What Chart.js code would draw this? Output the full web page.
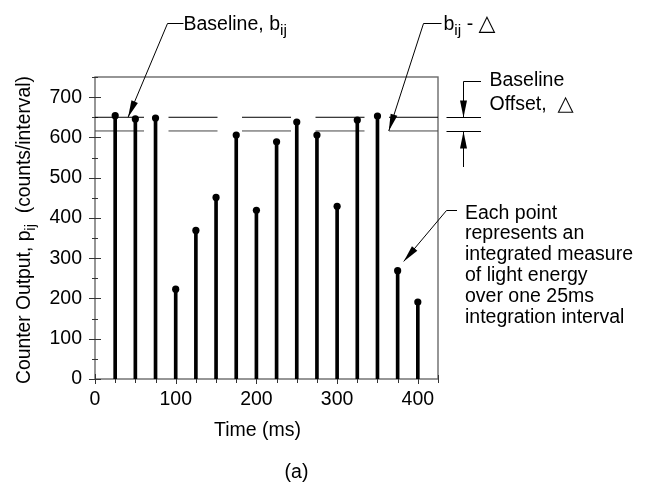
<!DOCTYPE html>
<html><head><meta charset="utf-8">
<script src="https://cdn.jsdelivr.net/npm/chart.js@4/dist/chart.umd.min.js"></script>
<style>html,body{margin:0;padding:0;background:#fff;}canvas{display:block}</style>
</head><body>
<canvas id="c" width="653" height="485"></canvas>
<script>
// ---- data ----
const times  = [25, 50, 75, 100, 125, 150, 175, 200, 225, 250, 275, 300, 325, 350, 375, 400];
const counts = [654, 646, 648, 223, 369, 451, 606, 419, 589, 638, 606, 429, 643, 653, 269, 191];
const xTickValues = [0, 100, 200, 300, 400];
const yTickValues = [0, 100, 200, 300, 400, 500, 600, 700];
const xMinorTicks = [0, 25, 50, 75, 100, 125, 150, 175, 200, 225, 250, 275, 300, 325, 350, 375, 400, 425];
const yMinorTicks = [0, 50, 100, 150, 200, 250, 300, 350, 400, 450, 500, 550, 600, 650, 700, 750];
const xRange = [0, 425];
const yRange = [0, 750];
const baselineLevel = 650;   // b_ij
const offsetLevel = 616;     // b_ij - delta
const noteLines = ['Each point', 'represents an', 'integrated measure', 'of light energy', 'over one 25ms', 'integration interval'];

const FONT = '"Liberation Sans", Arial, sans-serif';
const FRAME = '#6a6a6a';
const FS = 19.5;

function drawRuns(ctx, runs, x, y) {
  let cx = x;
  for (const r of runs) {
    ctx.font = r.size + 'px ' + (r.family || FONT);
    ctx.fillText(r.t, cx, y + (r.dy || 0));
    cx += ctx.measureText(r.t).width;
  }
  return cx - x;
}
function runsWidth(ctx, runs) {
  let w = 0;
  for (const r of runs) { ctx.font = r.size + 'px ' + (r.family || FONT); w += ctx.measureText(r.t).width; }
  return w;
}
function arrow(ctx, x0, y0, x1, y1, len, hw) {
  ctx.beginPath(); ctx.moveTo(x0, y0); ctx.lineTo(x1, y1); ctx.stroke();
  const a = Math.atan2(y1 - y0, x1 - x0);
  const bx = x1 - len * Math.cos(a), by = y1 - len * Math.sin(a);
  const nx = -Math.sin(a) * hw, ny = Math.cos(a) * hw;
  ctx.beginPath(); ctx.moveTo(x1, y1); ctx.lineTo(bx + nx, by + ny); ctx.lineTo(bx - nx, by - ny); ctx.closePath(); ctx.fill();
}

const framePlugin = {
  id: 'frame',
  beforeDatasetsDraw(chart) {
    const {ctx, chartArea: a, scales: {x, y}} = chart;
    ctx.save();
    ctx.strokeStyle = FRAME; ctx.lineWidth = 1.4;
    ctx.strokeRect(a.left, a.top, a.right - a.left, a.bottom - a.top);
    ctx.strokeStyle = '#333'; ctx.lineWidth = 1;
    for (const v of xMinorTicks) {
      const px = Math.round(x.getPixelForValue(v)) + 0.5;
      const major = xTickValues.includes(v);
      ctx.beginPath(); ctx.moveTo(px, a.bottom - (major ? 5 : 4)); ctx.lineTo(px, a.bottom + (major ? 5 : 4)); ctx.stroke();
    }
    for (const v of yMinorTicks) {
      const py = Math.round(y.getPixelForValue(v)) + 0.5;
      const major = yTickValues.includes(v);
      ctx.beginPath(); ctx.moveTo(a.left - (major ? 6 : 3), py); ctx.lineTo(a.left + (major ? 6 : 3), py); ctx.stroke();
    }
    ctx.restore();
  },
  afterDraw(chart) {
    const {ctx, chartArea: a, scales: {x, y}} = chart;
    ctx.save();
    ctx.fillStyle = '#000'; ctx.strokeStyle = '#000'; ctx.lineWidth = 1;
    ctx.textBaseline = 'alphabetic'; ctx.textAlign = 'left';

    // Y axis title (rotated)
    const yRuns = [
      {t: 'Counter Output, p', size: 19.3},
      {t: 'ij', size: 15, dy: 5},
      {t: '  (counts/interval)', size: 19.3}
    ];
    const yw = runsWidth(ctx, yRuns);
    ctx.save();
    ctx.translate(30, (a.top + a.bottom) / 2 + 2 + yw / 2);
    ctx.rotate(-Math.PI / 2);
    drawRuns(ctx, yRuns, 0, 0);
    ctx.restore();

    // X axis title
    ctx.font = FS + 'px ' + FONT; ctx.textAlign = 'center';
    ctx.fillText('Time (ms)', 257.5, 436);
    ctx.fillText('(a)', 296.5, 478);
    ctx.textAlign = 'left';

    // Baseline, b_ij annotation
    drawRuns(ctx, [{t: 'Baseline, b', size: FS}, {t: 'ij', size: 15.5, dy: 5}], 183.5, 30);
    ctx.beginPath(); ctx.moveTo(183.5, 23.5); ctx.lineTo(167.5, 23.5); ctx.stroke();
    arrow(ctx, 167.5, 23.5, x.getPixelForValue(41), y.getPixelForValue(baselineLevel), 17, 3.5);

    // b_ij - delta annotation
    drawRuns(ctx, [{t: 'b', size: FS}, {t: 'ij', size: 15.5, dy: 5}, {t: ' - ', size: FS}, {t: '\u25B3', size: 22, family: '"DejaVu Sans"'}], 443.5, 30);
    ctx.beginPath(); ctx.moveTo(441.5, 23.5); ctx.lineTo(423.5, 23.5); ctx.stroke();
    arrow(ctx, 423.5, 23.5, x.getPixelForValue(364), y.getPixelForValue(offsetLevel), 17, 3.5);

    // Baseline offset dimension
    const yb = Math.round(y.getPixelForValue(baselineLevel)) + 0.5;
    const yo = Math.round(y.getPixelForValue(offsetLevel)) + 0.5;
    ctx.beginPath();
    ctx.moveTo(446.5, yb); ctx.lineTo(481, yb);
    ctx.moveTo(446.5, yo); ctx.lineTo(481, yo);
    ctx.moveTo(481, 81.5); ctx.lineTo(463.5, 81.5);
    ctx.stroke();
    arrow(ctx, 463.5, 81.5, 463.5, yb, 17, 3.5);
    arrow(ctx, 463.5, 167, 463.5, yo, 17, 3.5);
    drawRuns(ctx, [{t: 'Baseline', size: FS}], 489.5, 86);
    drawRuns(ctx, [{t: 'Offset,  ', size: FS}, {t: '\u25B3', size: 21, family: '"DejaVu Sans"'}], 489.5, 109.5);

    // Each point note
    ctx.beginPath(); ctx.moveTo(457, 210.5); ctx.lineTo(446.5, 210.5); ctx.stroke();
    arrow(ctx, 446.5, 210.5, x.getPixelForValue(382.5), y.getPixelForValue(292), 17, 3.5);
    ctx.font = FS + 'px ' + FONT;
    noteLines.forEach((s, i) => ctx.fillText(s, 465, 218.5 + i * 20.8));
    ctx.restore();
  }
};

const pts = times.map((t, i) => ({x: t, y: counts[i]}));
const flat = (lvl) => [{x: xRange[0], y: lvl}, {x: xRange[1], y: lvl}];

new Chart(document.getElementById('c'), {
  type: 'bar',
  data: {
    datasets: [
      {type: 'line', data: pts, showLine: false, pointRadius: 3.6, pointBackgroundColor: '#000', pointBorderWidth: 0, order: 0},
      {type: 'bar', data: pts, backgroundColor: '#000', barThickness: 3, order: 1},
      {type: 'line', data: flat(baselineLevel), borderColor: '#000', borderWidth: 1, borderDash: [49, 24.5], pointRadius: 0, order: 2},
      {type: 'line', data: flat(offsetLevel), borderColor: '#444', borderWidth: 1, borderDash: [49, 24.5], pointRadius: 0, order: 2}
    ]
  },
  options: {
    responsive: false,
    animation: false,
    layout: {padding: {left: 0, top: 77, right: 215, bottom: 0}},
    plugins: {legend: {display: false}, tooltip: {enabled: false}},
    scales: {
      x: {
        type: 'linear', min: xRange[0], max: xRange[1], offset: false,
        grid: {display: false, drawTicks: false}, border: {display: false},
        afterBuildTicks: s => { s.ticks = xTickValues.map(v => ({value: v})); },
        afterFit: s => { s.height = 106; },
        ticks: {color: '#000', font: {family: FONT, size: FS}, padding: 9, maxRotation: 0, autoSkip: false}
      },
      y: {
        type: 'linear', min: yRange[0], max: yRange[1],
        grid: {display: false, drawTicks: false}, border: {display: false},
        afterBuildTicks: s => { s.ticks = yTickValues.map(v => ({value: v})); },
        afterFit: s => { s.width = 95; },
        ticks: {color: '#000', font: {family: FONT, size: FS}, padding: 13, autoSkip: false}
      }
    }
  },
  plugins: [framePlugin]
});
</script>
</body></html>
